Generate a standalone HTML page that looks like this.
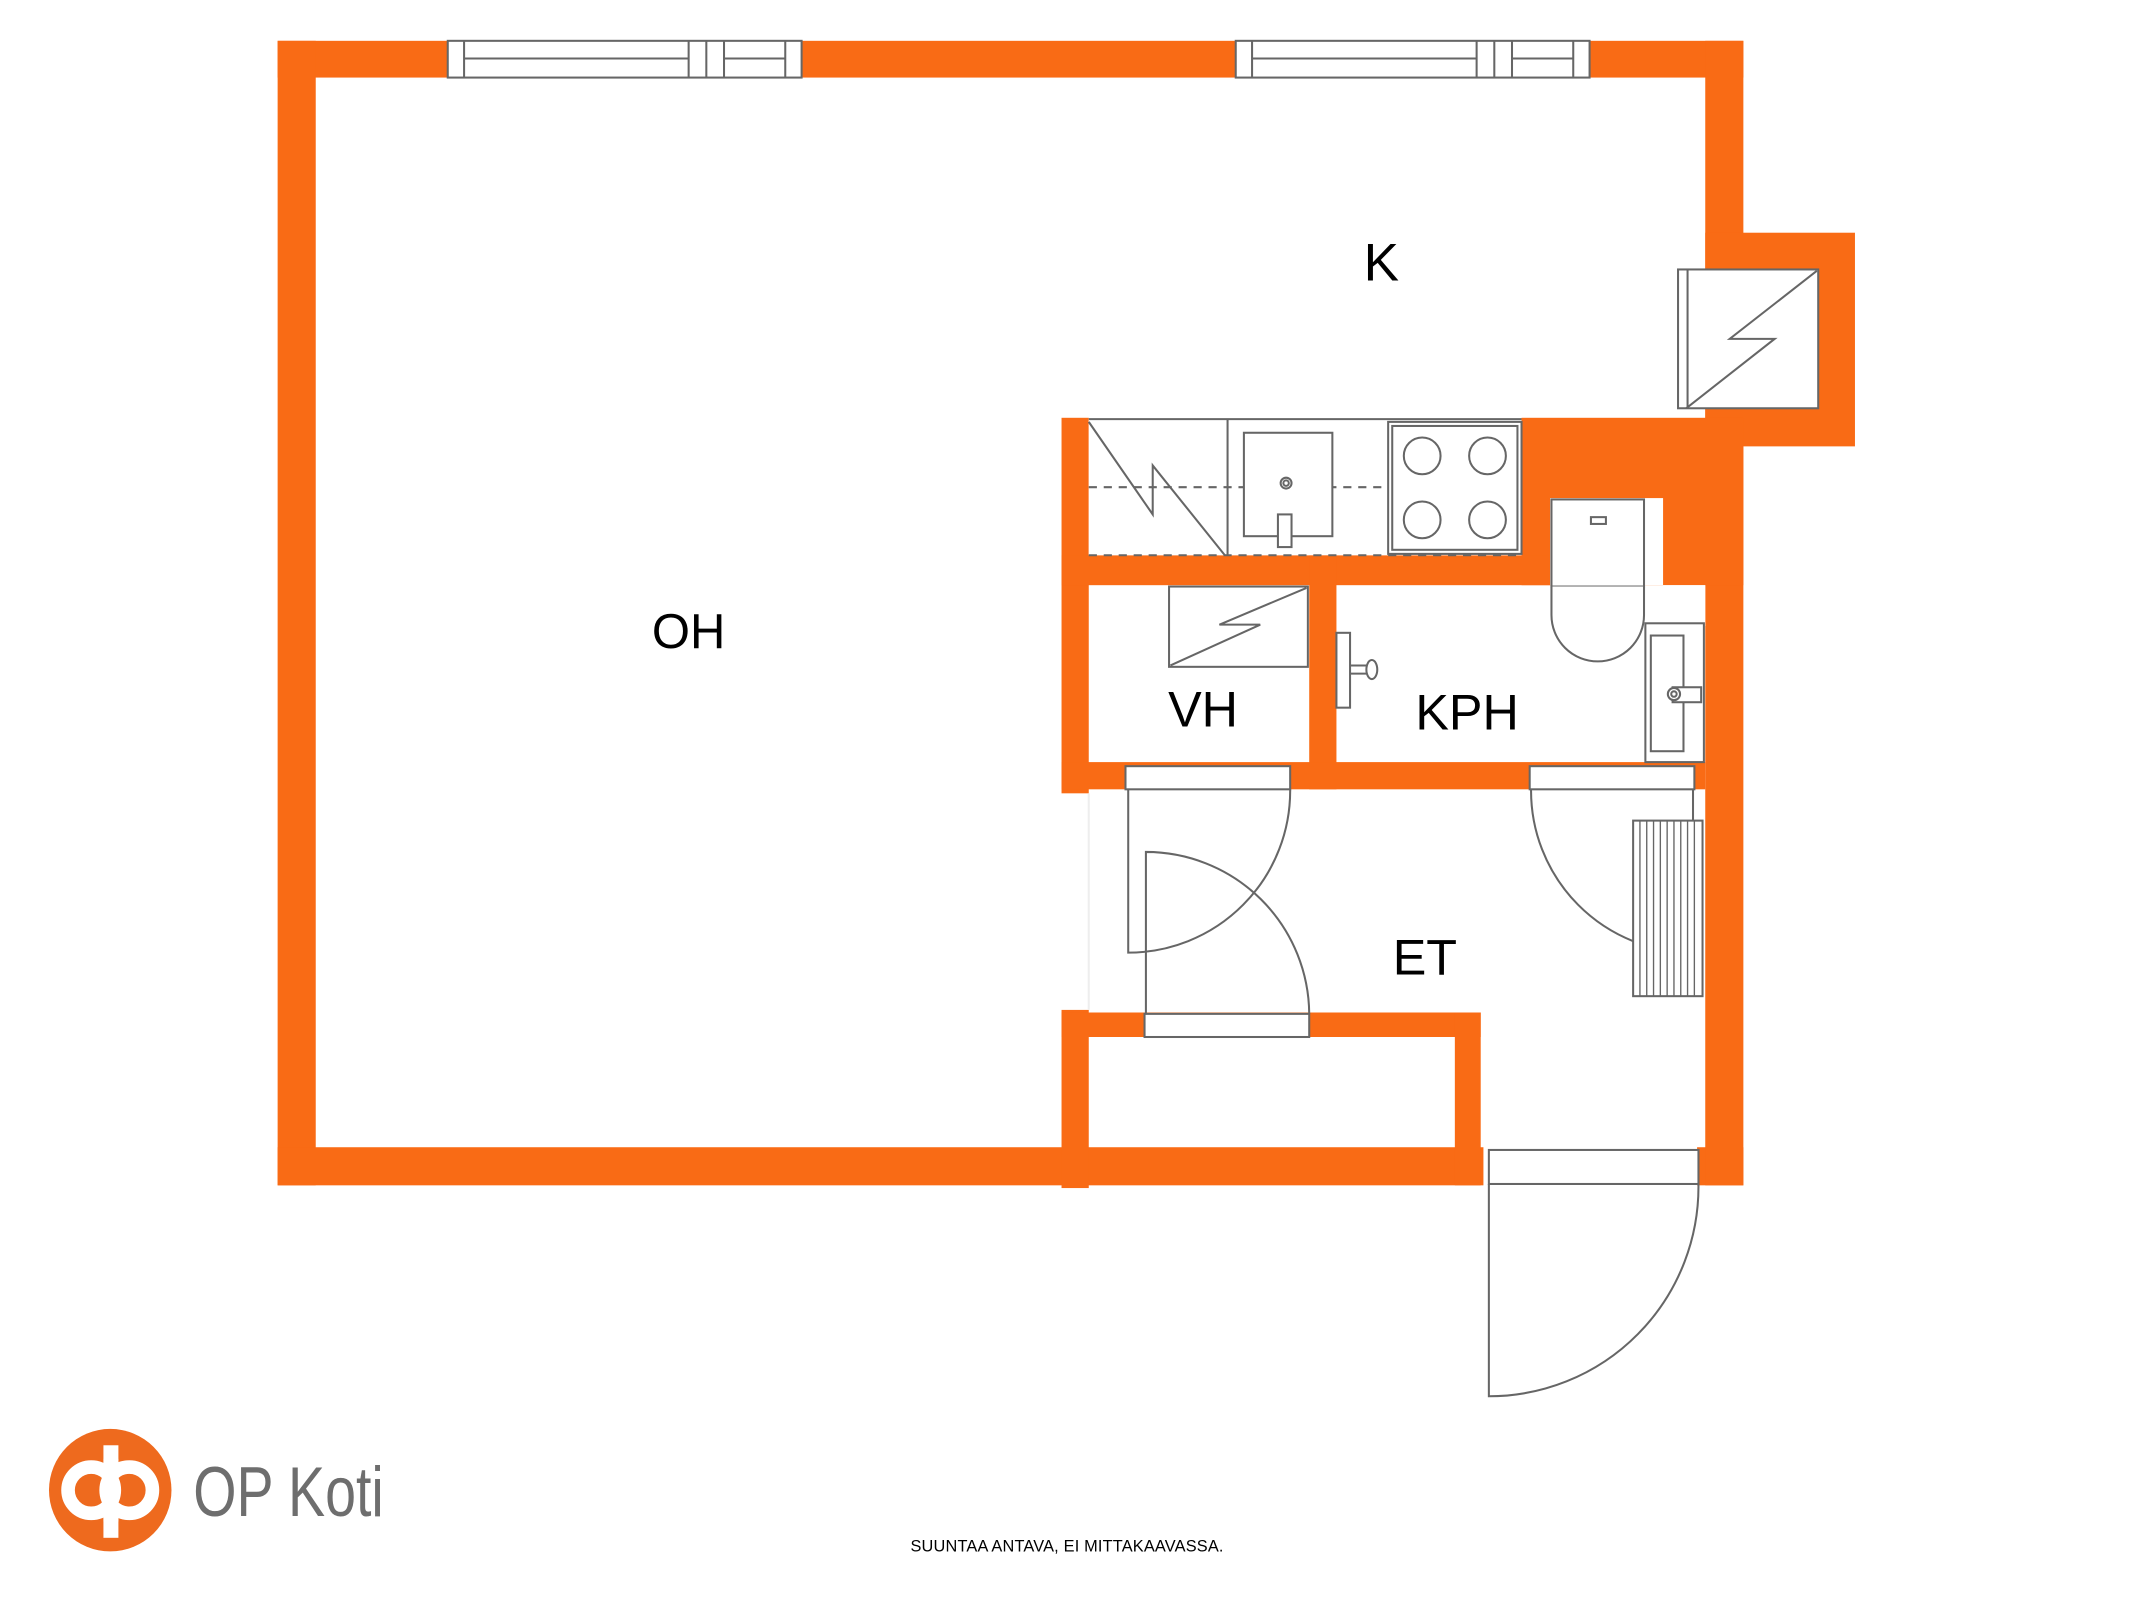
<!DOCTYPE html>
<html><head><meta charset="utf-8"><style>
html,body{margin:0;padding:0;background:#fff;}
svg{display:block;}
text{font-family:"Liberation Sans",sans-serif;}
</style></head><body>
<svg width="2133" height="1600" viewBox="0 0 1567.3 1175.7" preserveAspectRatio="none" xmlns="http://www.w3.org/2000/svg">
<rect width="1570" height="1180" fill="#fff"/>
<g fill="#F96B15">
<rect x="204" y="30" width="1077" height="27"/>
<rect x="204" y="30" width="28" height="841"/>
<rect x="204" y="843" width="886" height="28"/>
<rect x="1247" y="843" width="34" height="28"/>
<rect x="1253" y="30" width="28" height="841"/>
<rect x="1253" y="171" width="110" height="157"/>
<rect x="1118" y="307" width="163" height="123"/>
<rect x="780" y="307" width="20" height="276"/>
<rect x="780" y="742" width="20" height="131"/>
<rect x="780" y="408" width="360" height="22"/>
<rect x="962" y="408" width="20" height="172"/>
<rect x="780" y="560" width="473" height="20"/>
<rect x="780" y="744" width="308" height="18"/>
<rect x="1069" y="744" width="19" height="127"/>
</g>
<g fill="#fff">
<rect x="1139" y="366" width="83" height="64"/>
<rect x="1222" y="430" width="31" height="30"/>
<rect x="780" y="583" width="20" height="159"/>
<rect x="800" y="308" width="318" height="100"/>
</g>
<g fill="none" stroke="#666" stroke-width="1.5">
<rect x="329" y="30" width="260" height="27" fill="#fff"/>
<line x1="341" y1="30" x2="341" y2="57"/><line x1="506" y1="30" x2="506" y2="57"/><line x1="519" y1="30" x2="519" y2="57"/><line x1="532" y1="30" x2="532" y2="57"/><line x1="577" y1="30" x2="577" y2="57"/>
<line x1="341" y1="43" x2="506" y2="43"/><line x1="532" y1="43" x2="577" y2="43"/>
<rect x="908" y="30" width="260" height="27" fill="#fff"/>
<line x1="920" y1="30" x2="920" y2="57"/><line x1="1085" y1="30" x2="1085" y2="57"/><line x1="1098" y1="30" x2="1098" y2="57"/><line x1="1111" y1="30" x2="1111" y2="57"/><line x1="1156" y1="30" x2="1156" y2="57"/>
<line x1="920" y1="43" x2="1085" y2="43"/><line x1="1111" y1="43" x2="1156" y2="43"/>
<rect x="1233" y="198" width="103" height="102" fill="#fff"/>
<line x1="1240" y1="198" x2="1240" y2="300"/>
<polyline points="1335,199 1271,249 1304,249 1239,300"/>
<line x1="800" y1="308" x2="1118" y2="308"/>
<line x1="902" y1="308" x2="902" y2="408"/>
<polyline points="800,310 847,378 847,342 900,408"/>
<line x1="800" y1="358" x2="1118" y2="358" stroke-dasharray="6,5"/>
<line x1="800" y1="408" x2="1118" y2="408" stroke-dasharray="6,5"/>
<rect x="914" y="318" width="65" height="76" fill="#fff"/>
<circle cx="945" cy="355" r="4"/><circle cx="945" cy="355" r="2"/>
<rect x="939" y="378" width="10" height="24" fill="#fff"/>
<rect x="1020" y="310" width="98" height="97" fill="#fff"/>
<rect x="1023" y="313" width="92" height="91"/>
<circle cx="1045" cy="335" r="13.5"/><circle cx="1093" cy="335" r="13.5"/>
<circle cx="1045" cy="382" r="13.5"/><circle cx="1093" cy="382" r="13.5"/>
<rect x="1140" y="367" width="68" height="64" fill="#fff"/>
<rect x="1169" y="380" width="11" height="5"/>
<path d="M1140 431 L1140 452 A34 34 0 0 0 1208 452 L1208 431" fill="#fff"/>
<rect x="1209" y="458" width="43" height="102" fill="#fff"/>
<rect x="1213" y="467" width="24" height="85"/>
<rect x="1229" y="505" width="21" height="11" fill="#fff"/>
<circle cx="1230" cy="510" r="4.5" fill="#fff"/><circle cx="1230" cy="510" r="2"/>
<rect x="982" y="465" width="10" height="55" fill="#fff"/>
<line x1="992" y1="489" x2="1004" y2="489"/><line x1="992" y1="495" x2="1004" y2="495"/>
<ellipse cx="1008" cy="492" rx="4" ry="7" fill="#fff"/>
<rect x="859" y="431" width="102" height="59" fill="#fff"/>
<polyline points="860,489 926,459 896,459 960,432"/>
<rect x="827" y="563" width="121" height="17" fill="#fff"/>
<path d="M829 580 L829 700 A119 119 0 0 0 948 580"/>
<rect x="1124" y="563" width="121" height="17" fill="#fff"/>
<path d="M1244 580 L1244 700 A119 119 0 0 1 1125 580"/>
<rect x="841" y="745" width="121" height="17" fill="#fff"/>
<path d="M842 745 L842 626 A120 120 0 0 1 962 745"/>
<rect x="1200" y="603" width="51" height="129" fill="#fff"/>
<g stroke-width="1">
<line x1="1205" y1="603" x2="1205" y2="732"/><line x1="1210" y1="603" x2="1210" y2="732"/><line x1="1215" y1="603" x2="1215" y2="732"/><line x1="1220" y1="603" x2="1220" y2="732"/><line x1="1225" y1="603" x2="1225" y2="732"/><line x1="1230" y1="603" x2="1230" y2="732"/><line x1="1235" y1="603" x2="1235" y2="732"/><line x1="1240" y1="603" x2="1240" y2="732"/><line x1="1245" y1="603" x2="1245" y2="732"/>
</g>
<rect x="1094" y="845" width="154" height="25" fill="#fff"/>
<path d="M1094 870 L1094 1026 A154 154 0 0 0 1248 870"/>
<line x1="800" y1="583" x2="800" y2="742" stroke="#eee"/>
</g>
<g fill="#000">
<text x="1015" y="206" font-size="39" text-anchor="middle">K</text>
<text x="506" y="476" font-size="36" text-anchor="middle">OH</text>
<text x="884" y="534" font-size="37" text-anchor="middle">VH</text>
<text x="1078" y="536" font-size="37" text-anchor="middle">KPH</text>
<text x="1047" y="716" font-size="37" text-anchor="middle">ET</text>
<text x="784" y="1140" font-size="12" text-anchor="middle" textLength="230">SUUNTAA ANTAVA, EI MITTAKAAVASSA.</text>
</g>
<circle cx="81" cy="1095" r="45" fill="#EE6A1E"/>
<rect x="76" y="1062" width="11" height="68" fill="#fff"/>
<circle cx="67" cy="1095" r="17" fill="none" stroke="#fff" stroke-width="10"/>
<circle cx="95" cy="1095" r="17" fill="none" stroke="#fff" stroke-width="10"/>
<rect x="76" y="1072" width="11" height="8" fill="#fff"/><rect x="76" y="1110" width="11" height="8" fill="#fff"/>
<text x="142" y="1114" font-size="52" fill="#6e6e6e" textLength="140" lengthAdjust="spacingAndGlyphs">OP Koti</text>
</svg>
</body></html>
